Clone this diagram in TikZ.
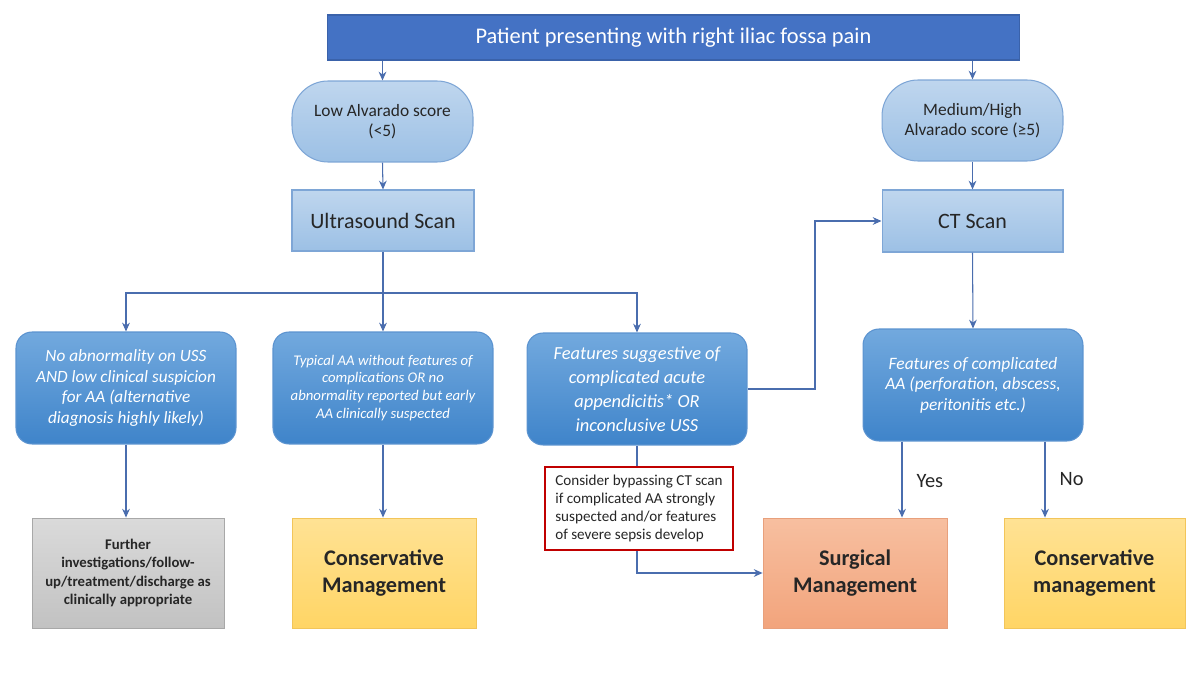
\documentclass[tikz,border=0pt]{standalone}
\usepackage{fontspec}
\setmainfont{Carlito}
\usetikzlibrary{arrows.meta,calc}
\definecolor{topblue}{HTML}{4472C4}
\definecolor{topborder}{HTML}{3A62AA}
\definecolor{lbtop}{HTML}{BFD6EE}
\definecolor{lbbot}{HTML}{9CC0E5}
\definecolor{lbborder}{HTML}{7EA6D6}
\definecolor{mbtop}{HTML}{72A9DE}
\definecolor{mbbot}{HTML}{3F84CA}
\definecolor{mbborder}{HTML}{5B93D0}
\definecolor{graytop}{HTML}{DADADA}
\definecolor{graybot}{HTML}{C2C2C2}
\definecolor{grayborder}{HTML}{A8A8A8}
\definecolor{yeltop}{HTML}{FFE294}
\definecolor{yelbot}{HTML}{FFD565}
\definecolor{yelborder}{HTML}{F2C55A}
\definecolor{saltop}{HTML}{F7BFA0}
\definecolor{salbot}{HTML}{F2A47C}
\definecolor{salborder}{HTML}{E8A07C}
\definecolor{redborder}{HTML}{C00000}
\definecolor{linecol}{HTML}{4A6DAE}
\tikzset{
  box/.style={inner sep=0pt, align=center, draw},
  topbox/.style={box, fill=topblue, draw=topborder, line width=0.6pt, text=white},
  lightbox/.style={box, top color=lbtop, bottom color=lbbot, draw=lbborder, line width=0.6pt, text=black!85},
  pill/.style={lightbox, rounded corners=0.72cm},
  midbox/.style={box, top color=mbtop, bottom color=mbbot, draw=mbborder, line width=0.6pt, rounded corners=0.32cm, text=white, font=\itshape},
  graybox/.style={box, top color=graytop, bottom color=graybot, draw=grayborder, line width=0.5pt, font=\bfseries, text=black!85},
  yelbox/.style={box, top color=yeltop, bottom color=yelbot, draw=yelborder, line width=0.5pt, font=\bfseries, text=black!85},
  salbox/.style={box, top color=saltop, bottom color=salbot, draw=salborder, line width=0.5pt, font=\bfseries, text=black!85},
  notebox/.style={box, fill=white, draw=redborder, line width=1.1pt, align=left, text=black!85},
  conn/.style={draw=linecol, line width=0.6pt},
  arr/.style={conn, -{Stealth[length=5pt,width=4.4pt]}},
  lbl/.style={inner sep=0pt, text=black!85, font=\fontsize{11.6}{13}\selectfont}
}
\begin{document}
\begin{tikzpicture}[x=0.02cm,y=-0.02cm]
\useasboundingbox (0,0) rectangle (1200,675);
% nodes
\node[topbox, minimum width=13.86cm, minimum height=0.9cm, font=\fontsize{12.75}{15}\selectfont] (top) at (673.5,37.5) {Patient presenting with right iliac fossa pain};
\node[pill, minimum width=3.62cm, minimum height=1.62cm, font=\fontsize{9.9}{11.6}\selectfont] (low) at (382.5,121.5) {Low Alvarado score\\(<5)};
\node[pill, minimum width=3.62cm, minimum height=1.62cm, font=\fontsize{9.9}{11.6}\selectfont] (med) at (972.5,120.5) {Medium/High\\Alvarado score (≥5)};
\node[lightbox, minimum width=3.64cm, minimum height=1.22cm, font=\fontsize{12.5}{15}\selectfont] (us) at (383,220.5) {Ultrasound Scan};
\node[lightbox, minimum width=3.62cm, minimum height=1.24cm, font=\fontsize{12.5}{15}\selectfont] (ct) at (972.5,221) {CT Scan};
\node[midbox, minimum width=4.4cm, minimum height=2.24cm, font=\itshape\fontsize{9.8}{11.9}\selectfont] (b1) at (126,388) {No abnormality on USS\\AND low clinical suspicion\\for AA (alternative\\diagnosis highly likely)};
\node[midbox, minimum width=4.4cm, minimum height=2.24cm, font=\itshape\fontsize{8.4}{10.2}\selectfont] (b2) at (383,388) {Typical AA without features of\\complications OR no\\abnormality reported but early\\AA clinically suspected};
\node[midbox, minimum width=4.4cm, minimum height=2.24cm, font=\itshape\fontsize{10.5}{13.6}\selectfont] (b3) at (637,389) {Features suggestive of\\complicated acute\\appendicitis* OR\\inconclusive USS};
\node[midbox, minimum width=4.4cm, minimum height=2.24cm, font=\itshape\fontsize{9.9}{11.6}\selectfont] (b4) at (973,385) {Features of complicated\\AA (perforation, abscess,\\peritonitis etc.)};
\node[graybox, minimum width=3.84cm, minimum height=2.2cm, font=\bfseries\fontsize{8.4}{10.3}\selectfont] (gray) at (128,573) {Further\\investigations/follow-\\up/treatment/discharge as\\clinically appropriate};
\node[yelbox, minimum width=3.68cm, minimum height=2.2cm, font=\bfseries\fontsize{12.7}{15}\selectfont] (cons1) at (384,573) {Conservative\\Management};
\node[notebox, minimum width=3.76cm, minimum height=1.66cm, font=\fontsize{8.6}{10.2}\selectfont] (note) at (639,508.5) {Consider bypassing CT scan\\if complicated AA strongly\\suspected and/or features\\of severe sepsis develop};
\node[salbox, minimum width=3.68cm, minimum height=2.2cm, font=\bfseries\fontsize{12.7}{15}\selectfont] (surg) at (855,573) {Surgical\\Management};
\node[yelbox, minimum width=3.62cm, minimum height=2.2cm, font=\bfseries\fontsize{12.7}{15}\selectfont] (cons2) at (1094.5,573) {Conservative\\management};
% helper coordinates
\coordinate (split) at (383,293);
\coordinate (jx) at (815,0);
\coordinate (yesx) at (902,0);
\coordinate (nox) at (1045,0);
\coordinate (turn) at (637,573);
% connectors
\draw[arr] (top.south -| low.north) -- (low.north);
\draw[arr] (top.south -| med.north) -- (med.north);
\draw[arr] (low.south) -- (us.north);
\draw[arr] (med.south) -- (ct.north);
\draw[conn] (us.south) -- (split);
\draw[arr] (split) -| (b1.north);
\draw[arr] (split) -- (b2.north);
\draw[arr] (split) -| (b3.north);
\draw[arr] (b3.east) -- (b3.east -| jx) |- (ct.west);
\draw[arr] (ct.south) -- (b4.north);
\draw[arr] (b1.south) -- (b1.south |- gray.north);
\draw[arr] (b2.south) -- (b2.south |- cons1.north);
\draw[conn] (b3.south) -- (b3.south |- note.north);
\draw[arr] (note.south -| turn) -- (turn) -- (surg.west);
\draw[arr] (b4.south -| yesx) -- node[lbl, right=8pt, pos=0.52] (yes) {Yes} (surg.north -| yesx);
\draw[arr] (b4.south -| nox) -- node[lbl, right=8pt, pos=0.49] (no) {No} (cons2.north -| nox);
\end{tikzpicture}
\end{document}
